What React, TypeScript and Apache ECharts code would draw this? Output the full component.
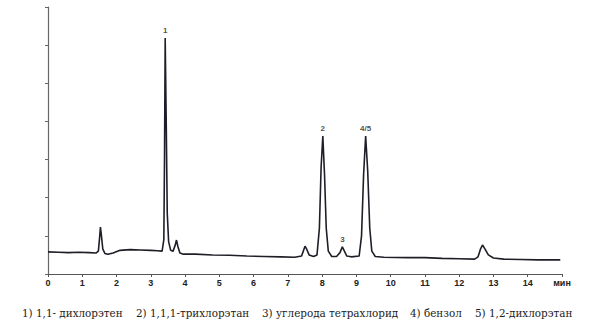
import React, { useEffect, useRef } from "react";
import * as echarts from "echarts";

const trace: [number, number][] = [
  [0, 0.58], [0.3, 0.57], [0.6, 0.56], [0.9, 0.57], [1.2, 0.56], [1.4, 0.55],
  [1.47, 0.6], [1.51, 1.0], [1.53, 1.23], [1.56, 1.0], [1.6, 0.65], [1.66, 0.54],
  [1.75, 0.52], [1.9, 0.55], [2.1, 0.62], [2.4, 0.64], [2.7, 0.63], [3.0, 0.62],
  [3.2, 0.61], [3.33, 0.6], [3.38, 0.9], [3.4, 3.0], [3.42, 6.19], [3.45, 4.0],
  [3.48, 1.6], [3.52, 0.85], [3.58, 0.62], [3.65, 0.6], [3.71, 0.75], [3.75, 0.89],
  [3.79, 0.72], [3.85, 0.55], [3.95, 0.52], [4.3, 0.52], [4.8, 0.5], [5.3, 0.49],
  [5.8, 0.47], [6.3, 0.46], [6.8, 0.45], [7.2, 0.44], [7.4, 0.47], [7.5, 0.73],
  [7.55, 0.65], [7.62, 0.5], [7.75, 0.46], [7.85, 0.5], [7.92, 1.2], [7.97, 2.8],
  [8.02, 3.62], [8.07, 2.6], [8.12, 1.2], [8.18, 0.6], [8.28, 0.46], [8.42, 0.46],
  [8.52, 0.56], [8.59, 0.71], [8.65, 0.6], [8.72, 0.47], [8.85, 0.45], [9.08, 0.47],
  [9.15, 1.0], [9.21, 2.6], [9.27, 3.62], [9.33, 2.7], [9.39, 1.2], [9.45, 0.6],
  [9.55, 0.46], [9.8, 0.44], [10.5, 0.43], [11.0, 0.43], [11.5, 0.41], [12.0, 0.4],
  [12.45, 0.39], [12.55, 0.45], [12.62, 0.65], [12.68, 0.76], [12.75, 0.66],
  [12.85, 0.5], [13.0, 0.42], [13.3, 0.39], [13.8, 0.38], [14.3, 0.37], [14.95, 0.37],
];

const peakLabels: { x: number; y: number; text: string }[] = [
  { x: 3.42, y: 6.19, text: "1" },
  { x: 8.02, y: 3.62, text: "2" },
  { x: 8.59, y: 0.71, text: "3" },
  { x: 9.27, y: 3.62, text: "4/5" },
];

const legendItems: { x: number; text: string }[] = [
  { x: 22, text: "1) 1,1- дихлорэтен" },
  { x: 136, text: "2) 1,1,1-трихлорэтан" },
  { x: 262, text: "3) углерода тетрахлорид" },
  { x: 410, text: "4) бензол" },
  { x: 475, text: "5) 1,2-дихлорэтан" },
];

const xUnit = "мин";

export default function App() {
  const ref = useRef<HTMLDivElement>(null);
  useEffect(() => {
    if (!ref.current) return;
    const chart = echarts.init(ref.current, null, { renderer: "svg" });
    chart.setOption({
      animation: false,
      backgroundColor: "#ffffff",
      grid: { left: 48, right: 32, top: 7, bottom: 52 },
      xAxis: {
        type: "value",
        min: 0,
        max: 15,
        interval: 1,
        splitLine: { show: false },
        axisLine: { lineStyle: { color: "#555", width: 1.2 } },
        axisTick: { show: true, length: 3, lineStyle: { color: "#555" } },
        axisLabel: {
          color: "#222",
          fontFamily: "Liberation Sans",
          fontWeight: "bold",
          fontSize: 9,
          margin: 4,
          formatter: (v: number) => (v === 15 ? xUnit : String(v)),
        },
      },
      yAxis: {
        type: "value",
        min: 0,
        max: 7,
        interval: 1,
        splitLine: { show: false },
        axisLine: { show: true, lineStyle: { color: "#666", width: 1.2 } },
        axisTick: { show: true, length: 3, lineStyle: { color: "#666" } },
        axisLabel: { show: false },
      },
      series: [
        {
          type: "line",
          data: trace,
          showSymbol: false,
          lineStyle: { color: "#1e1e28", width: 1.6 },
        },
        {
          type: "scatter",
          data: peakLabels.map((p) => ({ value: [p.x, p.y], name: p.text })),
          symbolSize: 0,
          label: {
            show: true,
            position: "top",
            distance: 3,
            formatter: (p: any) => p.name,
            color: "#222",
            fontFamily: "Liberation Sans",
            fontWeight: "bold",
            fontSize: 8,
          },
        },
      ],
      graphic: legendItems.map((it) => ({
        type: "text",
        x: it.x,
        y: 313,
        style: {
          text: it.text,
          fill: "#222",
          font: "10.4px 'DejaVu Serif'",
          textVerticalAlign: "middle",
        },
      })),
    });
    return () => chart.dispose();
  }, []);
  return (
    <div
      ref={ref}
      style={{ position: "fixed", left: 0, top: 0, width: 594, height: 326 }}
    />
  );
}
